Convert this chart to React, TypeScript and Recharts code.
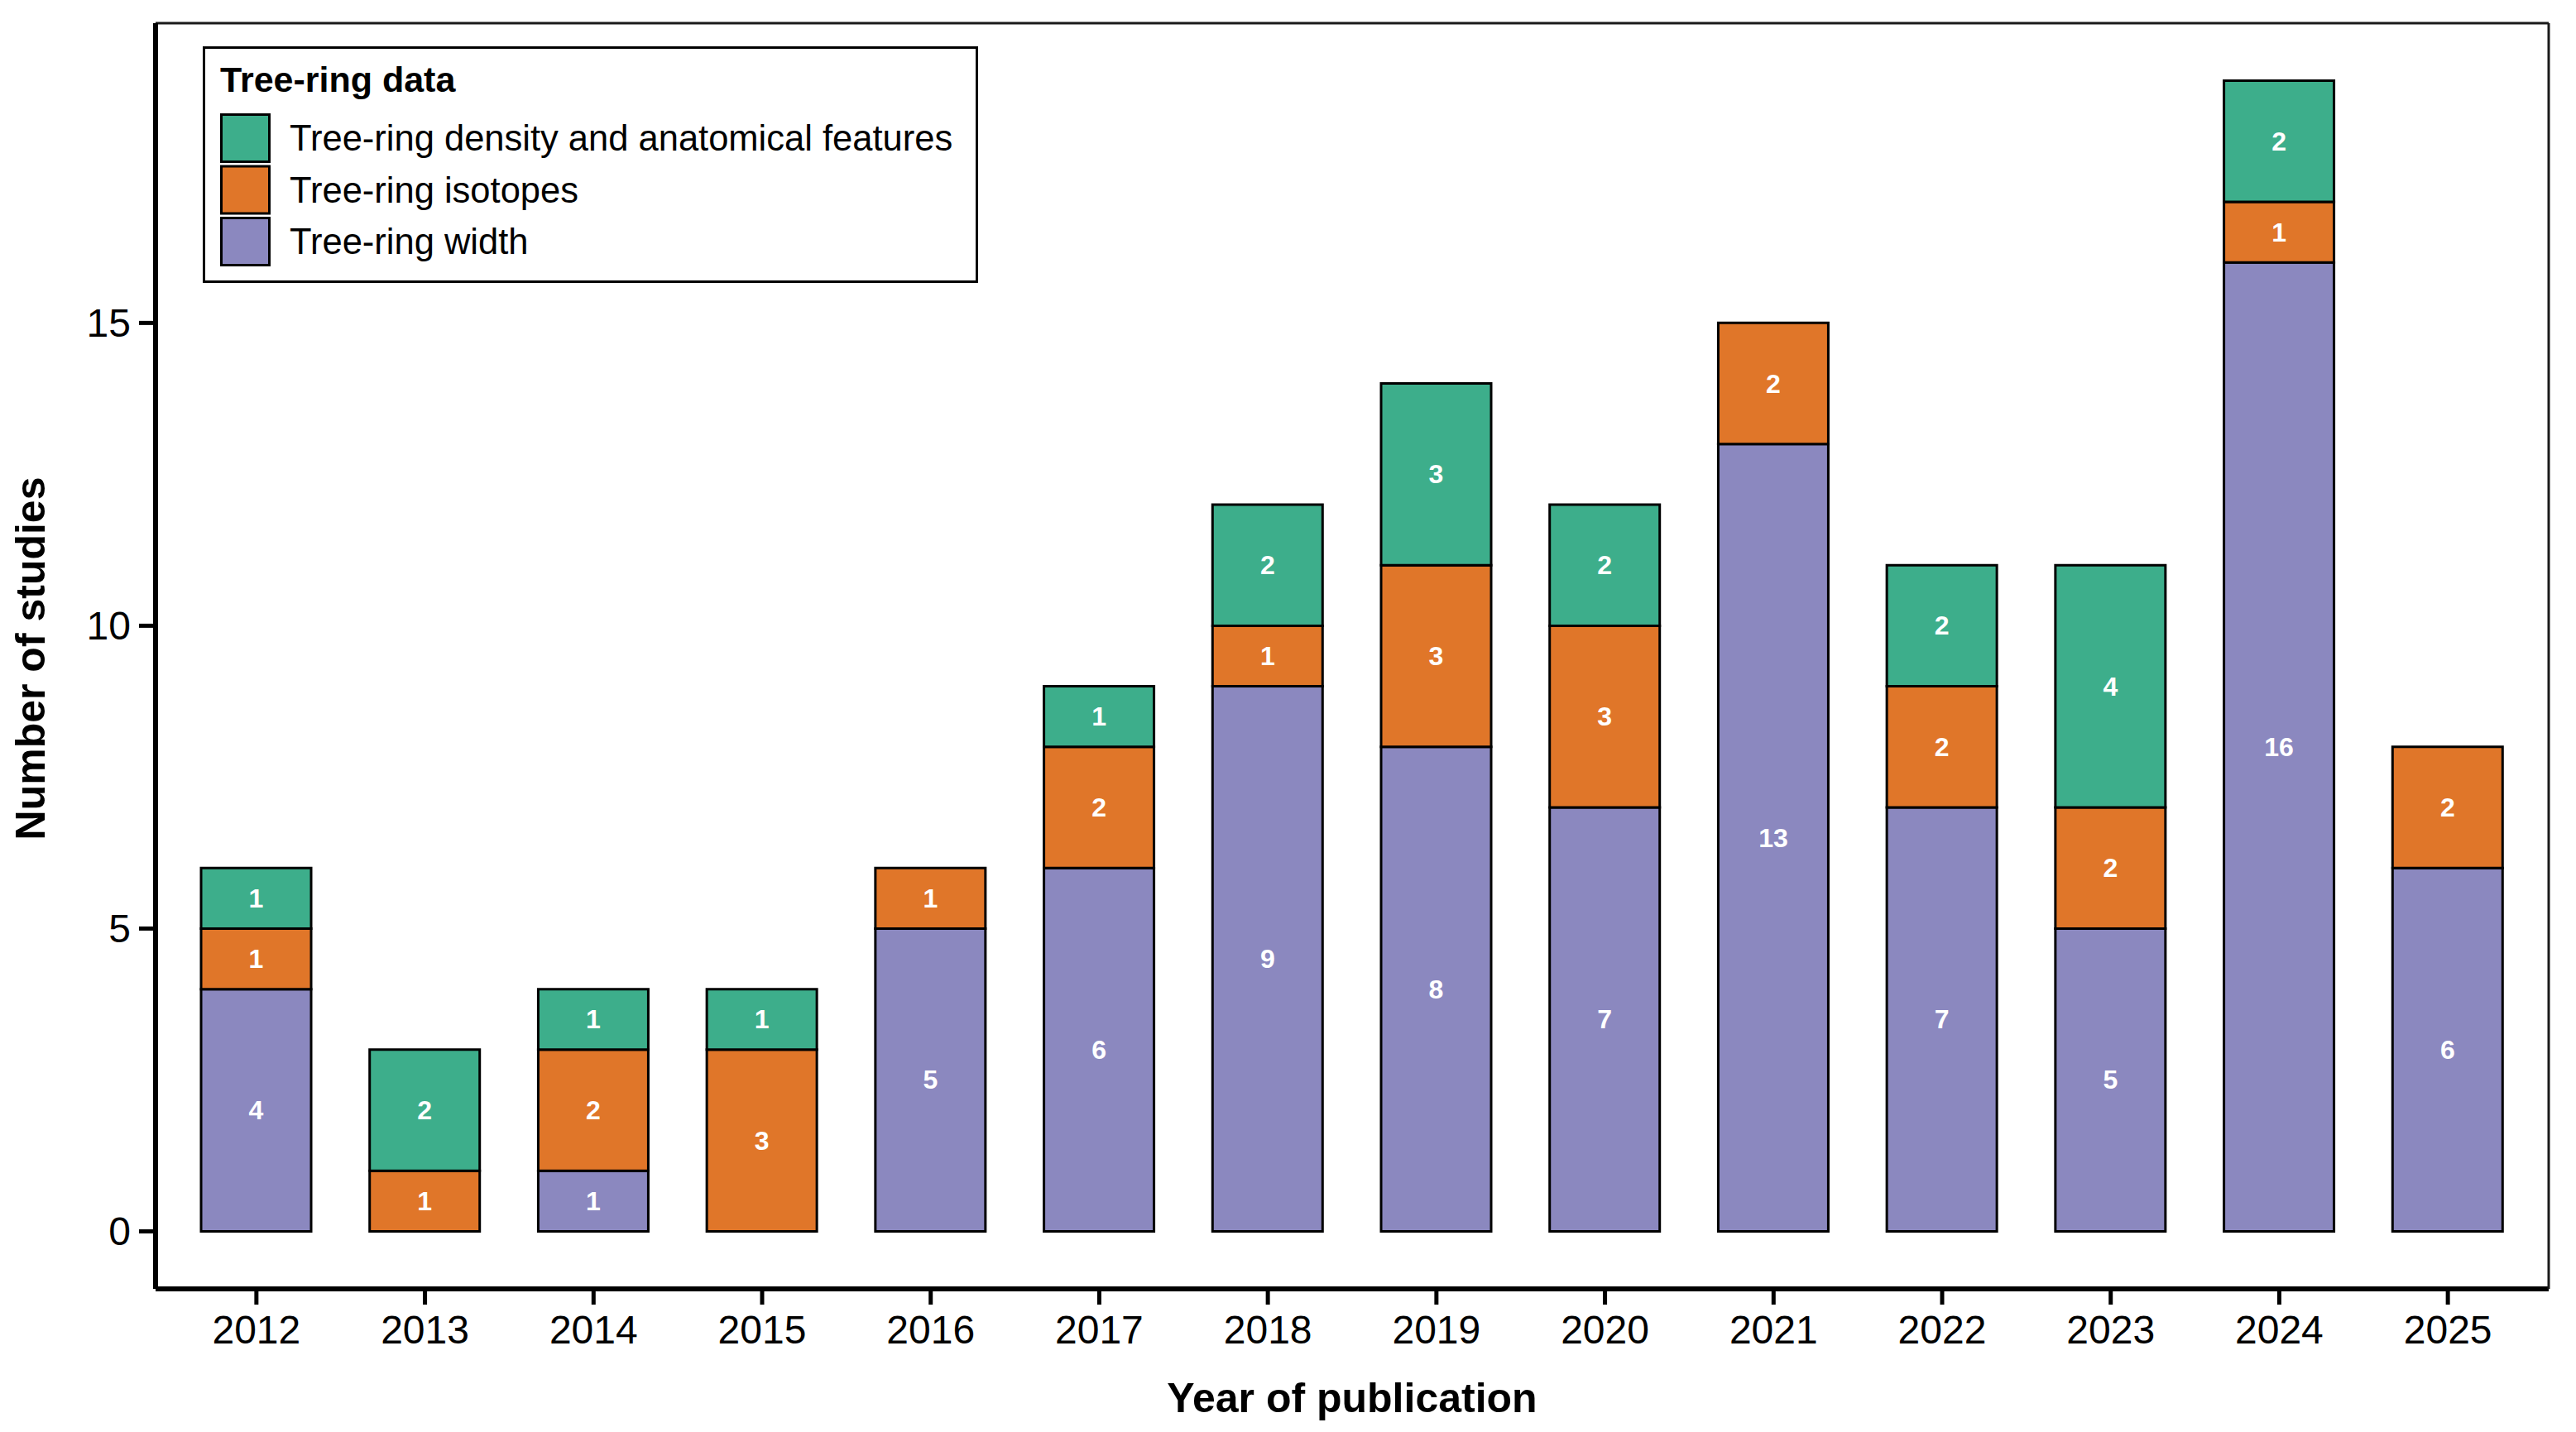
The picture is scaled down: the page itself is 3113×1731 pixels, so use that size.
import { BarChart, Bar, XAxis, YAxis, Legend, LabelList } from "recharts";

const FONT = "'Liberation Sans', Arial, Helvetica, sans-serif";

const years = [
  "2012", "2013", "2014", "2015", "2016", "2017", "2018",
  "2019", "2020", "2021", "2022", "2023", "2024", "2025",
];
// counts per data type, null where a year has none
const ringWidth = [4, null, 1, null, 5, 6, 9, 8, 7, 13, 7, 5, 16, 6];
const isotopes = [1, 1, 2, 3, 1, 2, 1, 3, 3, 2, 2, 2, 1, 2];
const density = [1, 2, 1, 1, null, 1, 2, 3, 2, null, 2, 4, 2, null];

const yTicks = [0, 5, 10, 15];
const yDomain = [-0.95, 19.95];

// stacking order: first = bottom
const series = [
  { key: "width", name: "Tree-ring width", color: "#8B88BF" },
  { key: "isotopes", name: "Tree-ring isotopes", color: "#E07629" },
  { key: "density", name: "Tree-ring density and anatomical features", color: "#3DAE8B" },
];

const data = years.map((year, i) => ({
  year,
  width: ringWidth[i],
  isotopes: isotopes[i],
  density: density[i],
}));

const SegmentLabel = (props: any) => {
  const { x, y, width, height, value } = props;
  if (value == null || value === 0) return null;
  return (
    <text
      x={x + width / 2}
      y={y + height / 2 + 11}
      textAnchor="middle"
      fill="#fff"
      fontWeight="bold"
      fontSize={32}
      fontFamily={FONT}
    >
      {value}
    </text>
  );
};

const LegendBox = () => {
  // legend lists top of the stack first
  const items = [...series].reverse();
  return (
    <svg width={937} height={286} style={{ display: "block" }}>
      <rect x={1.5} y={1.5} width={934} height={283} fill="#fff" stroke="#000" strokeWidth={3} />
      <text x={21} y={55} fontFamily={FONT} fontWeight="bold" fontSize={43} fill="#000">
        Tree-ring data
      </text>
      {items.map((s, i) => {
        const top = 81 + i * 62.5;
        return (
          <g key={s.key}>
            <rect x={22.5} y={top + 1.5} width={58} height={57} fill={s.color} stroke="#000" strokeWidth={3} />
            <text x={105} y={top + 30 + 15} fontFamily={FONT} fontSize={43.5} fill="#000">
              {s.name}
            </text>
          </g>
        );
      })}
    </svg>
  );
};

const XTitle = (props: any) => {
  const vb = props.viewBox || { x: 188, y: 1558, width: 2892 };
  return (
    <text
      x={vb.x + vb.width / 2}
      y={vb.y + 149}
      textAnchor="middle"
      fontFamily={FONT}
      fontWeight="bold"
      fontSize={50}
      fill="#000"
    >
      Year of publication
    </text>
  );
};

const YTitle = (props: any) => {
  const vb = props.viewBox || { x: 0, y: 28, height: 1530 };
  const cx = vb.x + 54;
  const cy = vb.y + vb.height / 2 + 3;
  return (
    <text
      x={cx}
      y={cy}
      transform={`rotate(-90 ${cx} ${cy})`}
      textAnchor="middle"
      fontFamily={FONT}
      fontWeight="bold"
      fontSize={50}
      fill="#000"
    >
      Number of studies
    </text>
  );
};

export default function App() {
  return (
    <div style={{ position: "absolute", left: 0, top: 0, background: "#fff" }}>
      <BarChart
        width={3113}
        height={1731}
        data={data}
        margin={{ top: 27, right: 32, bottom: 0, left: 0 }}
        barSize={133}
      >
        <XAxis
          dataKey="year"
          interval={0}
          padding={{ left: 20, right: 20 }}
          height={173}
          tickSize={19}
          tickMargin={13}
          axisLine={{ stroke: "#000", strokeWidth: 6 }}
          tickLine={{ stroke: "#000", strokeWidth: 5 }}
          tick={{ fill: "#000", fontSize: 48, fontFamily: FONT }}
          label={<XTitle />}
        />
        <XAxis
          xAxisId="top"
          dataKey="year"
          orientation="top"
          height={1}
          padding={{ left: 20, right: 20 }}
          tick={false}
          tickLine={false}
          axisLine={{ stroke: "#1a1a1a", strokeWidth: 3 }}
        />
        <YAxis
          width={188}
          domain={yDomain}
          ticks={yTicks}
          allowDataOverflow
          tickSize={20}
          tickMargin={10}
          axisLine={{ stroke: "#000", strokeWidth: 6 }}
          tickLine={{ stroke: "#000", strokeWidth: 5 }}
          tick={{ fill: "#000", fontSize: 48, fontFamily: FONT }}
          label={<YTitle />}
        />
        <YAxis
          yAxisId="right"
          orientation="right"
          width={1}
          domain={yDomain}
          allowDataOverflow
          tick={false}
          tickLine={false}
          axisLine={{ stroke: "#1a1a1a", strokeWidth: 3 }}
        />
        <Legend
          layout="horizontal"
          verticalAlign="middle"
          align="center"
          wrapperStyle={{ left: 245, top: 56, width: 937, height: 286 }}
          content={() => <LegendBox />}
        />
        {series.map((s) => (
          <Bar
            key={s.key}
            dataKey={s.key}
            name={s.name}
            stackId="a"
            fill={s.color}
            stroke="#000"
            strokeWidth={3}
            isAnimationActive={false}
          >
            <LabelList dataKey={s.key} content={<SegmentLabel />} />
          </Bar>
        ))}
      </BarChart>
    </div>
  );
}
